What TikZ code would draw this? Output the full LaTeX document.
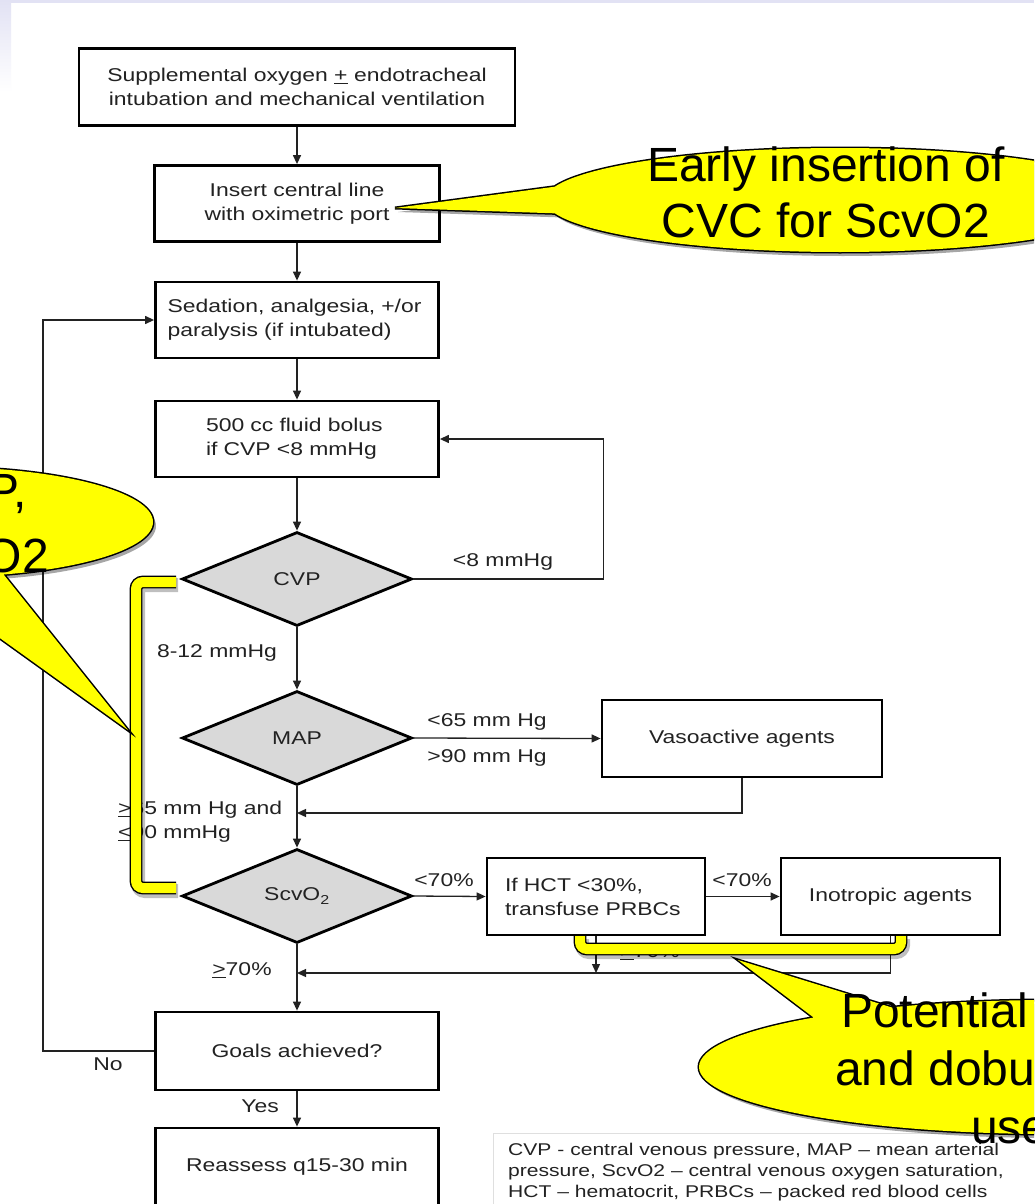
\documentclass[tikz,border=0pt]{standalone}
\usepackage{fontspec}
\setmainfont{Liberation Sans}
\newfontfamily\flowfont[FakeStretch=1.24]{Liberation Sans}
\usetikzlibrary{arrows.meta,shapes.geometric}
\definecolor{lav}{RGB}{226,226,244}
\definecolor{ink}{RGB}{34,34,34}
\definecolor{cyel}{RGB}{255,255,0}
\begin{document}
\begin{tikzpicture}[x=1pt,y=-1pt,
  box/.style={draw=black, line width=2.8pt, fill=white, inner sep=0pt, text=ink,
    font=\flowfont\fontsize{18.5}{24}\selectfont, align=center},
  lbox/.style={box, align=left},
  dia/.style={diamond, draw=black, line width=2.8pt, fill=gray!30, inner sep=0pt, text=ink,
    minimum width=230pt, minimum height=94pt, aspect=2.45, font=\flowfont\fontsize{18.5}{24}\selectfont},
  lab/.style={inner sep=0pt, text=ink, font=\flowfont\fontsize{18.5}{24}\selectfont},
  arr/.style={draw=ink, line width=1.3pt, -{Triangle[length=9pt,width=8pt]}},
  brk/.style={draw=black, line width=1.4pt, double=cyel, double distance=10pt, rounded corners=7pt},
  brkshadow/.style={draw=black, opacity=.25, line width=14pt, rounded corners=7pt},
  big/.style={inner sep=0pt, font=\fontsize{48}{56}\selectfont, text=black},
]
\useasboundingbox (0,0) rectangle (1034,1204);
\clip (0,0) rectangle (1034,1204);
\fill[white] (0,0) rectangle (1034,1204);
\fill[lav] (0,0) rectangle (1034,3);
\shade[top color=lav, bottom color=white] (0,0) rectangle (11,92);

% boxes
\node[box, minimum width=436pt, minimum height=77pt] (b1) at (297,87)
  {Supplemental oxygen \underline{+} endotracheal\\intubation and mechanical ventilation};
\node[box, minimum width=285pt, minimum height=76pt] (b2) at (297,203.5)
  {Insert central line\\with oximetric port};
\node[lbox, minimum width=283pt, minimum height=76pt, text width=259pt] (b3) at (297,320)
  {Sedation, analgesia, +/or\\paralysis (if intubated)};
\node[lbox, minimum width=283pt, minimum height=76pt, text width=182pt] (b4) at (297,439)
  {500 cc fluid bolus\\if CVP <8 mmHg};
\node[dia] (cvp) at (297,579) {CVP};
\node[dia] (map) at (297,738) {MAP};
\node[dia] (scv) at (297,896) {ScvO\textsubscript{2}};
\node[box, minimum width=280pt, minimum height=77pt] (vaso) at (742,738.5) {Vasoactive agents};
\node[lbox, minimum width=218pt, minimum height=77pt, text width=182pt] (hct) at (596,896.5)
  {If HCT <30\%,\\transfuse PRBCs};
\node[box, minimum width=219pt, minimum height=77pt] (ino) at (890.5,896.5) {Inotropic agents};
\node[box, minimum width=283pt, minimum height=78pt] (goal) at (297,1051) {Goals achieved?};
\node[box, minimum width=283pt, minimum height=77pt] (reas) at (297,1166.5) {Reassess q15-30 min};

\coordinate (mer1) at (297,813);
\coordinate (mer2) at (297,973);

% connectors
\draw[arr] (b1.south) -- (b2.north);
\draw[arr] (b2.south) -- (b3.north);
\draw[arr] (b3.south) -- (b4.north);
\draw[arr] (b4.south) -- (cvp.north);
\draw[arr] (cvp.south) -- (map.north);
\draw[arr] (map.south) -- (scv.north);
\draw[arr] (scv.south) -- (goal.north);
\draw[arr] (goal.south) -- (reas.north);
\draw[arr] (cvp.east) -- ++(190,0) |- (b4.east);
\draw[arr] (map.east) -- (vaso.west);
\draw[arr] (vaso.south) |- (mer1);
\draw[arr] (scv.east) -- (hct.west);
\draw[arr] (hct.east) -- (ino.west);
\draw[arr] (hct.south) -- (hct.south |- mer2);
\draw[arr] (ino.south) |- (mer2);
\draw[arr] (goal.west) -- ++(-111,0) |- (b3.west);

% labels
\node[lab] (l1) at (503,562) {<8 mmHg};
\node[lab] (l2) at (217,653) {8-12 mmHg};
\node[lab] (l3) at (487,722) {<65 mm Hg};
\node[lab] (l4) at (487,758) {>90 mm Hg};
\node[lab, anchor=west, align=left] (l5) at (118,822) {\underline{>}65 mm Hg and\\\underline{<}90 mmHg};
\node[lab] (l6) at (444,880) {<70\%};
\node[lab] (l7) at (742,880) {<70\%};
\node[lab] (l8) at (650,952) {\underline{>}70\%};
\node[lab] (l9) at (242,970) {\underline{>}70\%};
\node[lab] (l10) at (108,1064) {No};
\node[lab] (l11) at (260,1106) {Yes};

% legend
\draw[gray!25, line width=1pt] (493,1133) rectangle (1040,1215);
\node[inner sep=0pt, anchor=north west, align=left, text=ink,
  font=\flowfont\fontsize{17}{21}\selectfont] (leg) at (508,1143)
  {CVP - central venous pressure, MAP – mean arterial\\pressure, ScvO2 – central venous oxygen saturation,\\HCT – hematocrit, PRBCs – packed red blood cells};

% brackets
\draw[brkshadow, shift={(2,3)}] (176,582) -- (136,582) -- (136,888) -- (176,888);
\draw[brk] (176,582) -- (136,582) -- (136,888) -- (176,888);
\draw[brkshadow, shift={(2,3)}] (580,936) -- (580,949) -- (901,949) -- (901,936);
\draw[brk] (580,936) -- (580,949) -- (901,949) -- (901,936);

% callout top right
\fill[black, opacity=.35, shift={(3,4)}] (840,200) ellipse [x radius=295, y radius=52]
  (395,208) -- (560,186) -- (575,214) -- cycle;
\draw[black, line width=3pt] (840,200) ellipse [x radius=295, y radius=52]
  (395,208) -- (560,186) -- (575,214) -- cycle;
\fill[cyel] (840,200) ellipse [x radius=295, y radius=52]
  (395,208) -- (560,186) -- (575,214) -- cycle;
\node[big, anchor=base] (c1a) at (826,181) {Early insertion of};
\node[big, anchor=base] (c1b) at (826,237) {CVC for ScvO2};

% callout left
\fill[black, opacity=.35, shift={(3,4)}] (-60,522) ellipse [x radius=213, y radius=55]
  (128,730) -- (-95,570) -- (0,570) -- cycle;
\draw[black, line width=3pt] (-60,522) ellipse [x radius=213, y radius=55]
  (128,730) -- (-95,570) -- (0,570) -- cycle;
\fill[cyel] (-60,522) ellipse [x radius=213, y radius=55]
  (128,730) -- (-95,570) -- (0,570) -- cycle;
\node[big, anchor=base east] (c2a) at (27,507) {CVP,};
\node[big, anchor=base east] (c2b) at (49,572) {ScvO2};

% callout bottom right
\fill[black, opacity=.35, shift={(3,4)}] (1052,1067) ellipse [x radius=353, y radius=67]
  (738,960) -- (900,1010) -- (830,1030) -- cycle;
\draw[black, line width=3pt] (1052,1067) ellipse [x radius=353, y radius=67]
  (738,960) -- (900,1010) -- (830,1030) -- cycle;
\fill[cyel] (1052,1067) ellipse [x radius=353, y radius=67]
  (738,960) -- (900,1010) -- (830,1030) -- cycle;
\node[big, anchor=base west] (c3a) at (841,1027) {Potential};
\node[big, anchor=base west] (c3b) at (835,1085) {and dobu};
\node[big, anchor=base west] (c3c) at (971,1143) {use};
\end{tikzpicture}
\end{document}
